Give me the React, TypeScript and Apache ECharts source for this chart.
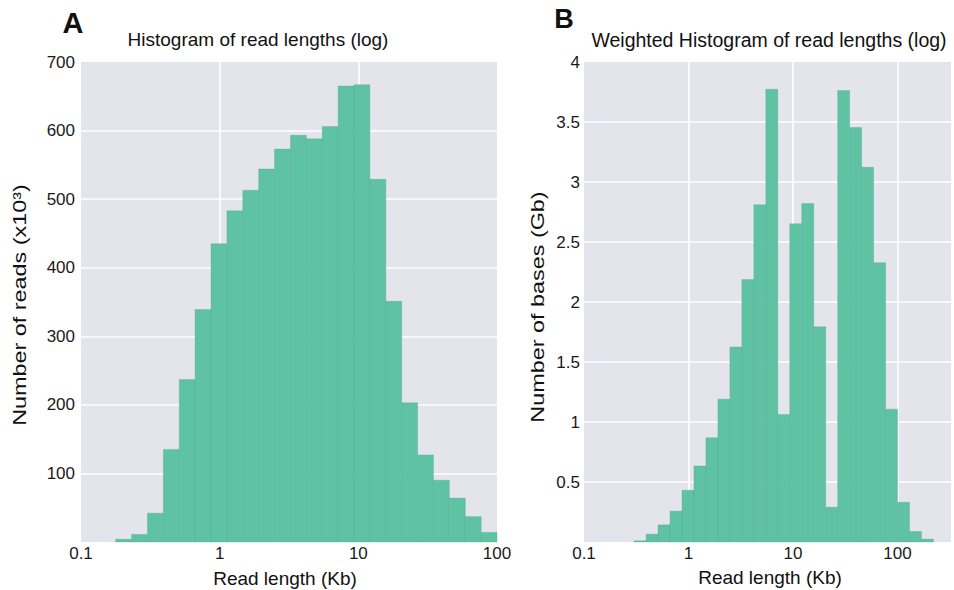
import React, { useEffect, useRef } from "react";
import * as echarts from "echarts";

// Bin edges (Kb), shared by both histograms (log-spaced bins)
const binEdges = [
  0.178, 0.2315, 0.3014, 0.3925, 0.511, 0.665, 0.866, 1.128, 1.468, 1.912,
  2.489, 3.241, 4.22, 5.494, 7.153, 9.311, 12.12, 15.79, 20.55, 26.76,
  34.83, 45.36, 59.05, 76.88, 100.1, 130.3, 169.7, 220.9,
];

// Panel A: number of reads (x10^3) per bin
const readCounts = [
  4, 11, 42, 135, 237, 339, 435, 483, 513, 544, 573, 593, 588, 606, 665, 667,
  529, 351, 203, 127, 90, 64, 37, 14,
];

// Panel B: number of bases (Gb) per bin
const basesGb = [
  0, 0, 0.01, 0.065, 0.143, 0.257, 0.431, 0.634, 0.869, 1.19, 1.625, 2.187,
  2.81, 3.773, 1.062, 2.652, 2.82, 1.793, 0.29, 3.762, 3.454, 3.122, 2.328,
  1.107, 0.331, 0.088, 0.024,
];

const xTicksShown = [0.1, 1, 10, 100];
const leftYTicks = [100, 200, 300, 400, 500, 600, 700];
const rightYTicks = [0.5, 1, 1.5, 2, 2.5, 3, 3.5, 4];

const titleA = "Histogram of read lengths (log)";
const titleB = "Weighted Histogram of read lengths (log)";
const xName = "Read length (Kb)";
const yNameA = "Number of reads (x10³)";
const yNameB = "Number of bases (Gb)";

const FONT = "'Liberation Sans', Arial, Helvetica, sans-serif";
const BAR = "#5fc3a3";
const BG = "#e4e4ed";

function toBins(values: number[]) {
  const out: number[][] = [];
  values.forEach((v, i) => {
    if (v > 0) out.push([binEdges[i], binEdges[i + 1], v]);
  });
  return out;
}

function xLabel(v: number) {
  for (const t of xTicksShown) {
    if (Math.abs(Math.log10(v) - Math.log10(t)) < 1e-6) return String(t);
  }
  return "";
}

function renderBar(params: any, api: any) {
  const x0 = api.value(0);
  const x1 = api.value(1);
  const y = api.value(2);
  const p0 = api.coord([x0, y]);
  const p1 = api.coord([x1, 0]);
  const cs = params.coordSys;
  const shape = echarts.graphic.clipRectByRect(
    { x: p0[0], y: p0[1], width: p1[0] - p0[0], height: p1[1] - p0[1] },
    { x: cs.x, y: cs.y, width: cs.width, height: cs.height }
  );
  if (!shape) return null;
  return {
    type: "rect",
    shape,
    style: { fill: BAR, stroke: "rgba(70,165,135,0.3)", lineWidth: 1 },
  };
}

function textEl(text: string, x: number, y: number, size: number, extra: any = {}) {
  return {
    type: "text",
    x,
    y,
    rotation: extra.rotation || 0,
    scaleX: extra.scaleX || 1,
    style: {
      text,
      fill: "#111",
      fontSize: size,
      fontFamily: FONT,
      fontWeight: extra.bold ? "bold" : "normal",
      align: "center",
      verticalAlign: "middle",
      textAlign: "center",
      textVerticalAlign: "middle",
    },
  };
}

export default function App() {
  const ref = useRef<HTMLDivElement>(null);
  useEffect(() => {
    if (!ref.current) return;
    const chart = echarts.init(ref.current, null, { renderer: "svg" });
    const splitLine = {
      show: true,
      showMinLine: false,
      showMaxLine: false,
      lineStyle: { color: "#ffffff", width: 1.6 },
    };
    const axisLabelBase = { color: "#1a1a1a", fontSize: 17, fontFamily: FONT };
    chart.setOption({
      animation: false,
      backgroundColor: "#ffffff",
      grid: [
        { left: 81, top: 62, width: 416, height: 480, show: true, backgroundColor: BG, borderWidth: 0 },
        { left: 584, top: 62, width: 367, height: 480, show: true, backgroundColor: BG, borderWidth: 0 },
      ],
      xAxis: [
        {
          type: "log", logBase: 10, gridIndex: 0, min: 0.1, max: 100,
          axisLine: { show: false }, axisTick: { show: false },
          axisLabel: { ...axisLabelBase, margin: 3, formatter: xLabel },
          splitLine,
        },
        {
          type: "log", logBase: 10, gridIndex: 1, min: 0.1, max: 325,
          axisLine: { show: false }, axisTick: { show: false },
          axisLabel: { ...axisLabelBase, margin: 3, formatter: xLabel },
          splitLine,
        },
      ],
      yAxis: [
        {
          type: "value", gridIndex: 0, min: 0, max: leftYTicks[leftYTicks.length - 1], interval: leftYTicks[1] - leftYTicks[0],
          axisLine: { show: false }, axisTick: { show: false },
          axisLabel: { ...axisLabelBase, margin: 6, formatter: (v: number) => (leftYTicks.includes(v) ? String(v) : "") },
          splitLine,
        },
        {
          type: "value", gridIndex: 1, min: 0, max: rightYTicks[rightYTicks.length - 1], interval: rightYTicks[1] - rightYTicks[0],
          axisLine: { show: false }, axisTick: { show: false },
          axisLabel: { ...axisLabelBase, margin: 4, formatter: (v: number) => (rightYTicks.includes(v) ? String(v) : "") },
          splitLine,
        },
      ],
      series: [
        {
          type: "custom", xAxisIndex: 0, yAxisIndex: 0,
          encode: { x: [0, 1], y: 2 },
          data: toBins(readCounts),
          renderItem: renderBar,
          silent: true,
        },
        {
          type: "custom", xAxisIndex: 1, yAxisIndex: 1,
          encode: { x: [0, 1], y: 2 },
          data: toBins(basesGb),
          renderItem: renderBar,
          silent: true,
        },
      ],
      graphic: [
        textEl("A", 73, 23, 29, { bold: true }),
        textEl("B", 564, 19, 27, { bold: true }),
        textEl(titleA, 258, 39, 19),
        textEl(titleB, 769, 40, 19.5),
        textEl(xName, 285, 578, 19),
        textEl(xName, 770, 577, 19),
        textEl(yNameA, 20, 305, 18, { rotation: Math.PI / 2, scaleX: 1.3 }),
        textEl(yNameB, 538, 307, 18, { rotation: Math.PI / 2, scaleX: 1.3 }),
      ],
    });
    return () => chart.dispose();
  }, []);
  return (
    <div
      ref={ref}
      style={{ position: "absolute", left: 0, top: 0, width: 954, height: 590 }}
    />
  );
}
